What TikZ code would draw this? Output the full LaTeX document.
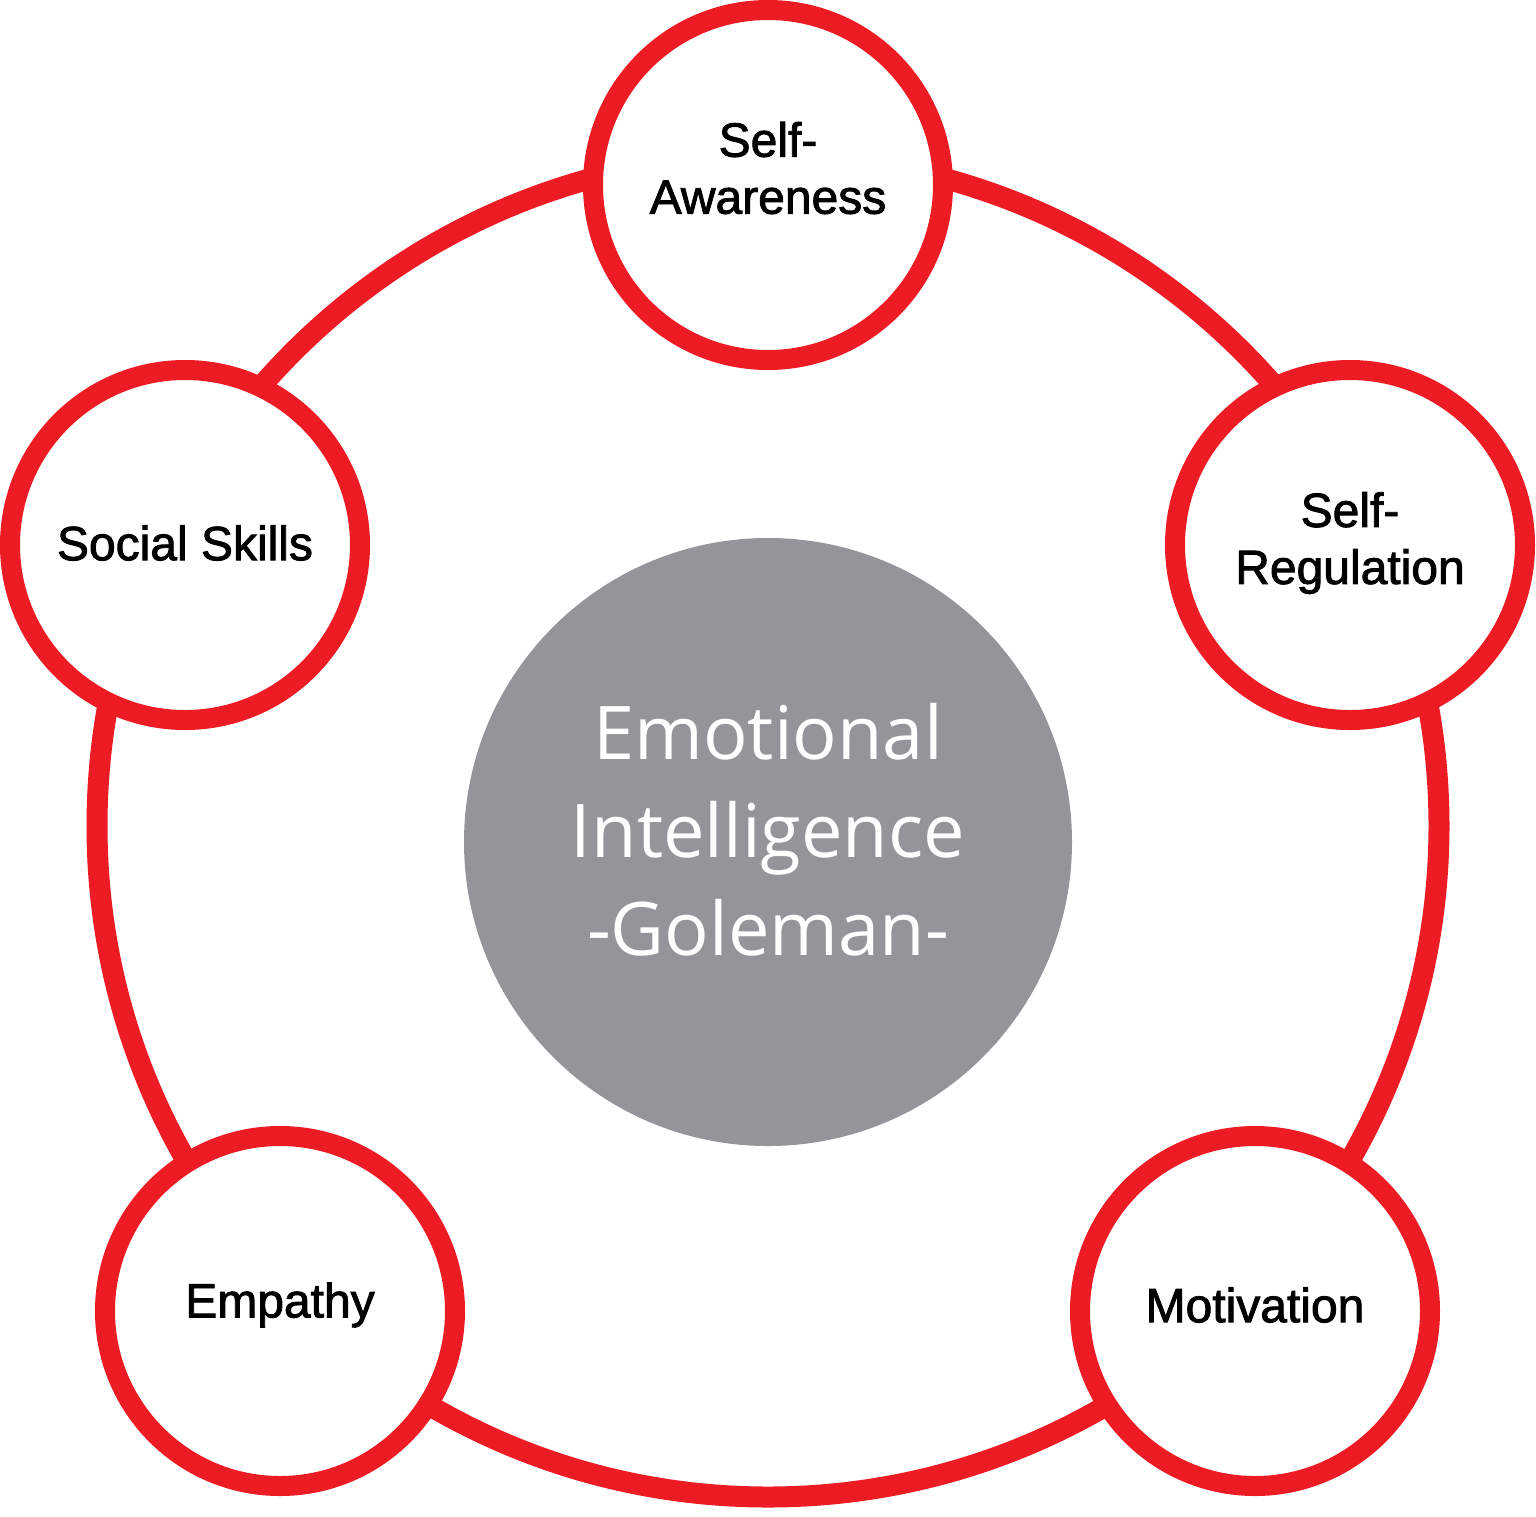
\documentclass[tikz,border=0pt]{standalone}
\usepackage{fontspec}
\setmainfont{Liberation Sans}
\newfontfamily\labfont{Liberation Sans}[FakeBold=1.8]
\newfontfamily\ctrfont{Open Sans}
\definecolor{eired}{RGB}{237,28,36}
\definecolor{eigray}{RGB}{147,149,152}
\tikzset{
  ring/.style={draw=eired, line width=10.5pt},
  skill/.style={circle, draw=eired, fill=white, line width=10pt, minimum size=175pt, inner sep=0pt},
  skilltext/.style={align=center, font=\labfont\fontsize{24pt}{28.5pt}\selectfont, text=black},
  core/.style={circle, fill=eigray, minimum size=304pt, inner sep=0pt},
  coretext/.style={align=center, font=\ctrfont\fontsize{37pt}{49pt}\selectfont, text=white}
}
\begin{document}
\begin{tikzpicture}[x=0.5pt, y=-0.5pt]
\useasboundingbox (0,0) rectangle (1536,1516);
\coordinate (ringc) at (768,826);
\draw[ring] (ringc) circle[radius=335.5pt];
\node[core] (core) at (768,842) {};
\node[coretext] (coret) at (768,830) {Emotional\\Intelligence\\-Goleman-};
\node[skill] (sa) at (768,185) {};
\node[skill] (sr) at (1350,545) {};
\node[skill] (ss) at (185,545) {};
\node[skill] (em) at (280,1311) {};
\node[skill] (mo) at (1255,1311) {};
\node[skilltext] (sat) at (768,168) {Self-\\Awareness};
\node[skilltext] (srt) at (1350,543) {Self-\\Regulation};
\node[skilltext] (sst) at (185,543) {Social Skills};
\node[skilltext] (emt) at (280,1305) {Empathy};
\node[skilltext] (mot) at (1255,1305) {Motivation};
\end{tikzpicture}
\end{document}
